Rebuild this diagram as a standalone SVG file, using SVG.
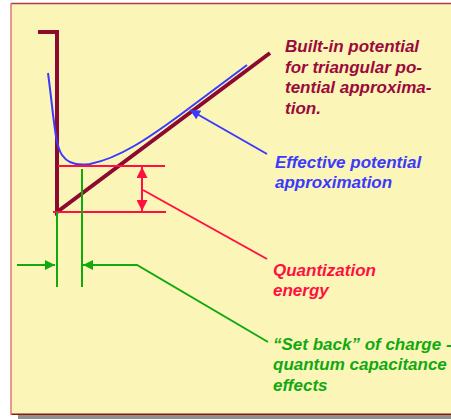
<svg xmlns="http://www.w3.org/2000/svg" width="451" height="419" viewBox="0 0 451 419">
<defs>
<style>
.t{font-family:"Liberation Sans",Arial,sans-serif;font-size:17px;font-weight:bold;font-style:italic}
.brown{stroke:#8c0a30;stroke-width:4;fill:none}
.blue{stroke:#3a3aff;stroke-width:2;fill:none}
.red{stroke:#ff1040;stroke-width:2;fill:none}
.green{stroke:#10aa10;stroke-width:2;fill:none}
</style>
<marker id="ab" viewBox="0 0 10 10" refX="10" refY="5" markerWidth="11" markerHeight="10" markerUnits="userSpaceOnUse" orient="auto"><path d="M0,0L10,5L0,10z" fill="#3a3aff"/></marker>
<marker id="ar" viewBox="0 0 10 10" refX="10" refY="5" markerWidth="11" markerHeight="11" markerUnits="userSpaceOnUse" orient="auto-start-reverse"><path d="M0,0L10,5L0,10z" fill="#ff1040"/></marker>
<marker id="ag" viewBox="0 0 10 10" refX="10" refY="5" markerWidth="11" markerHeight="10" markerUnits="userSpaceOnUse" orient="auto"><path d="M0,0L10,5L0,10z" fill="#10aa10"/></marker>
</defs>
<rect x="0" y="0" width="451" height="419" fill="#ffffff"/>
<rect x="18" y="415" width="440" height="4" fill="#909090"/>
<rect x="11" y="3.5" width="445" height="411" fill="#fbf5b8"/>
<line x1="11" y1="3.5" x2="451" y2="3.5" stroke="#b03c3c" stroke-width="1.5"/>
<line x1="11" y1="414.3" x2="451" y2="414.3" stroke="#8a1a10" stroke-width="1.5"/>
<line x1="11" y1="3" x2="11" y2="415" stroke="#d87878" stroke-width="1.5"/>

<g id="built-in-potential">
<path class="brown" d="M38,32H57V212L270,53"/>
</g>
<g id="effective-potential">
<path class="blue" d="M48,73C54,118 55,145 62,155C68,164 77,166 90,164C120,158 150,137 180,115L247,65"/>
</g>
<g id="quantization-levels">
<line class="red" x1="58" y1="166" x2="165" y2="166"/>
<line class="red" x1="53" y1="212" x2="166" y2="212"/>
</g>
<g id="setback-lines">
<line class="green" x1="57" y1="212" x2="57" y2="287"/>
<line class="green" x1="82" y1="169" x2="82" y2="287"/>
</g>

<g id="connectors">
<line class="blue" x1="267" y1="154" x2="190" y2="110" marker-end="url(#ab)"/>
<line class="red" x1="142" y1="167" x2="142" y2="211" marker-start="url(#ar)" marker-end="url(#ar)"/>
<line class="red" x1="143" y1="190" x2="267" y2="259"/>
<line class="green" x1="17" y1="265" x2="55" y2="265" marker-end="url(#ag)"/>
<polyline class="green" points="268,342 137,265 83,265" marker-end="url(#ag)"/>
</g>

<g id="label-builtin">
<text class="t" fill="#9a0a3c" x="285" y="52">Built-in potential</text>
<text class="t" fill="#9a0a3c" x="285" y="72.5">for triangular po-</text>
<text class="t" fill="#9a0a3c" x="285" y="93">tential approxima-</text>
<text class="t" fill="#9a0a3c" x="285" y="113.5">tion.</text>
</g>
<g id="label-effective">
<text class="t" fill="#3a3aff" x="275" y="167.5">Effective potential</text>
<text class="t" fill="#3a3aff" x="275" y="188">approximation</text>
</g>
<g id="label-quantization">
<text class="t" fill="#ff1040" x="273" y="275.5">Quantization</text>
<text class="t" fill="#ff1040" x="273" y="296">energy</text>
</g>
<g id="label-setback">
<text class="t" fill="#10aa10" x="273" y="349.5">“Set back” of charge -</text>
<text class="t" fill="#10aa10" x="273" y="370">quantum capacitance</text>
<text class="t" fill="#10aa10" x="273" y="390.5">effects</text>
</g>
</svg>
